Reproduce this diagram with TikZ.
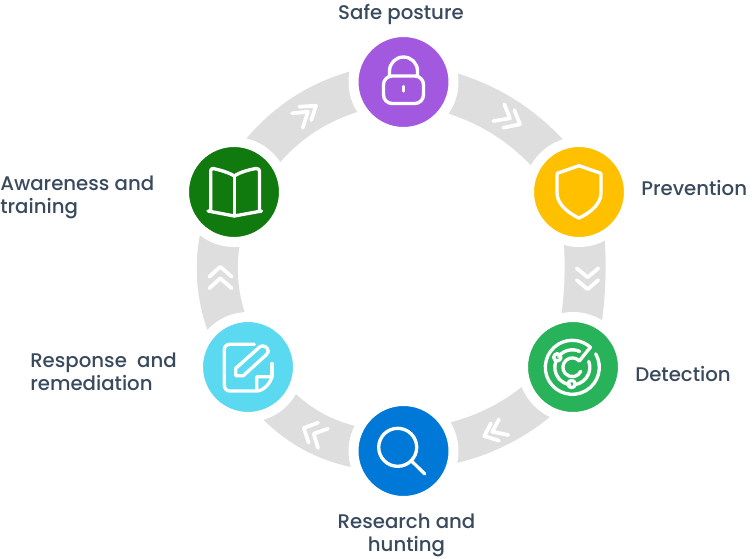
\documentclass[tikz,border=0pt]{standalone}
\usepackage{fontspec}
\setmainfont{Poppins}[UprightFont=* Medium]
\usetikzlibrary{backgrounds}
\definecolor{ringgray}{HTML}{DEDEDE}
\definecolor{txt}{HTML}{3A4A5E}
\definecolor{cpurple}{HTML}{A259E0}
\definecolor{cyellow}{HTML}{FFC000}
\definecolor{cgreen}{HTML}{28B35A}
\definecolor{cblue}{HTML}{0078D7}
\definecolor{ccyan}{HTML}{5BD9F0}
\definecolor{cdark}{HTML}{117A0F}
\tikzset{
  hub/.style={circle,fill=#1,draw=white,line width=7.5pt,minimum size=75pt,inner sep=0pt},
  ringarc/.style={draw=ringgray,line width=30.75pt,line cap=butt},
  chev/.style={draw=white,line width=2.8pt,line cap=round,line join=round},
  icon/.style={draw=white,line width=2.5pt,line cap=round,line join=round},
  lab/.style={text=txt,inner sep=0pt,font=\fontsize{14.8pt}{17.6pt}\selectfont}
}
\begin{document}
\begin{tikzpicture}[x=0.75pt,y=-0.75pt]
\useasboundingbox (0,0) rectangle (752,558);
\node[hub=cpurple] (safe) at (403.5,82) {};
\node[hub=cyellow] (prev) at (579,192) {};
\node[hub=cgreen] (det) at (573,367) {};
\node[hub=cblue] (res) at (403.5,451) {};
\node[hub=ccyan] (resp) at (248,367) {};
\node[hub=cdark] (aware) at (234,192) {};
\begin{scope}[on background layer]
\draw[ringarc] (safe.center) to[bend left=23] (prev.center);
\draw[ringarc] (prev.center) to[bend left=10] (det.center);
\draw[ringarc] (det.center) to[bend left=21] (res.center);
\draw[ringarc] (res.center) to[bend left=30] (resp.center);
\draw[ringarc] (resp.center) to[bend left=27] (aware.center);
\draw[ringarc] (aware.center) to[bend left=27] (safe.center);
\end{scope}
% chevrons
\draw[chev] (493.3,121)--(510,118.3)--(504.3,104.3);
\draw[chev] (503.3,127.7)--(520,124.3)--(514.3,110);
\draw[chev] (576.7,268.3)--(587.7,277.3)--(598.3,268.3);
\draw[chev] (576.7,280)--(587.7,289.3)--(598.3,280);
\draw[chev] (491,423.3)--(484.3,436)--(499,440.7);
\draw[chev] (499,419.3)--(492.3,431.7)--(508.3,435);
\draw[chev] (318,422.7)--(303.7,428)--(308.7,442.7);
\draw[chev] (328,428.7)--(313.7,433.7)--(318,448);
\draw[chev] (209.3,276.7)--(220.3,266.7)--(231.7,276.7);
\draw[chev] (209.3,288.3)--(220.3,278.3)--(231.7,288.3);
\draw[chev] (299.3,106.7)--(316,105.7)--(311.3,120);
\draw[chev] (292,113.3)--(308,111.7)--(302.7,127.7);
% lock
\draw[icon,rounded corners=6.5pt] (383.5,76) rectangle (423.5,103.5);
\draw[icon] (389.5,76) -- (389.5,71) arc[start angle=180,end angle=360,radius=14] -- (417.5,76);
\draw[icon] (403.3,86.5)--(403.3,91);
% shield
\draw[icon] (579,165.7) -- (558,173) .. controls (556.5,173.5) and (557,174) .. (557,176) -- (557,193) .. controls (557,205) and (570,214) .. (579,218) .. controls (588,214) and (601,205) .. (601,193) -- (601,176) .. controls (601,174) and (601.5,173.5) .. (600,173) -- cycle;
% radar
\begin{scope}[shift={(572.3,367.3)}]
\draw[icon] (-30:27) arc[start angle=-30,end angle=312,radius=27] -- (7,-6.3) arc[start angle=-42,end angle=-335,radius=9.4];
\draw[icon] (-65:17.5) arc[start angle=-65,end angle=-142,radius=17.5];
\draw[icon] (-160:17.5) arc[start angle=-160,end angle=-262,radius=17.5];
\draw[icon] (-278:17.5) arc[start angle=-278,end angle=-380,radius=17.5];
\draw[icon] (-15,-10) circle (3.6);
\draw[icon] (-0.7,16.7) circle (3.6);
\end{scope}
% magnifier
\draw[icon] (397.7,447.3) circle (19);
\draw[icon] (412.3,461.7) -- (424.7,474);
% note
\draw[icon] (254.3,344.3) -- (230,344.3) .. controls (226.5,344.3) and (224.3,346.5) .. (224.3,350) -- (224.3,385) .. controls (224.3,388.5) and (226.5,391) .. (230,391) -- (256.7,391) -- (256.7,376.7) -- (272,376.7) .. controls (270,384) and (263,391) .. (256.7,391);
\draw[icon] (272,363.5) -- (272,376.7);
\draw[icon] (235.7,375.7) -- (235.7,368.3) -- (260,346.7) .. controls (263,344.5) and (268.5,347) .. (268.3,351.7) .. controls (268,353) and (267,354) .. (266,355) -- (243.3,375.7) -- cycle;
% book
\draw[icon] (234.3,176) .. controls (228,172) and (218,169.5) .. (213,168.5) .. controls (211.5,168.3) and (210.7,169.5) .. (210.7,171) -- (210.7,210.8);
\draw[icon] (234.3,176) .. controls (240,172) and (250,169.5) .. (256,168.5) .. controls (258,168.3) and (259.5,169.5) .. (259.5,171) -- (259.5,210.8);
\draw[icon] (234.3,176) -- (234.3,216);
\draw[icon] (208,211) -- (234.3,216) -- (261.5,211);
% labels
\node[lab,anchor=base] (l1) at (401,19.5) {Safe posture};
\node[lab,anchor=base west] (l2) at (641,195) {Prevention};
\node[lab,anchor=base west] (l3) at (635,381) {Detection};
\node[lab,anchor=north west,align=left] (l4) at (0,175.5) {Awareness and\\training};
\node[lab,anchor=north west,align=left] (l5) at (30,352.5) {Response~ and\\remediation};
\node[lab,anchor=north,align=center] (l6) at (406.5,513.5) {Research and\\hunting};
\end{tikzpicture}
\end{document}
